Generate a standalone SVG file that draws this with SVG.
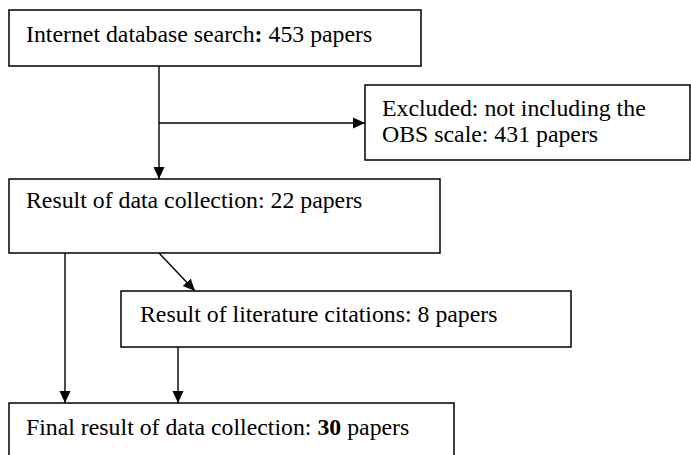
<svg xmlns="http://www.w3.org/2000/svg" width="691" height="455" viewBox="0 0 691 455">
<style>
.box{fill:#fff;stroke:#000;stroke-width:1.5}
.t{font-family:"Liberation Serif","Times New Roman",serif;font-size:23.8px;fill:#000}
.c{stroke:#000;stroke-width:1.4;fill:none;marker-end:url(#ah)}
</style>
<defs>
<marker id="ah" markerUnits="userSpaceOnUse" markerWidth="12" markerHeight="12" refX="12" refY="6" orient="auto" viewBox="0 0 12 12">
<path d="M0,0.5 L12,6 L0,11.5 z" fill="#000"/>
</marker>
</defs>
<g id="connectors">
<line class="c" x1="159" y1="66" x2="159" y2="179"/>
<line class="c" x1="159" y1="123" x2="365" y2="123"/>
<line class="c" x1="65" y1="253" x2="65" y2="403"/>
<line class="c" x1="159" y1="253" x2="195" y2="291"/>
<line class="c" x1="178" y1="347" x2="178" y2="403"/>
</g>
<g id="n1"><rect class="box" x="9" y="10" width="412" height="56"/>
<text class="t" x="26" y="42">Internet database search<tspan font-weight="bold">:</tspan> 453 papers</text></g>
<g id="n2"><rect class="box" x="365" y="85" width="325" height="75"/>
<text class="t" x="382" y="116">Excluded: not including the</text>
<text class="t" x="382" y="142">OBS scale: 431 papers</text></g>
<g id="n3"><rect class="box" x="9" y="179" width="431" height="74"/>
<text class="t" x="26" y="208">Result of data collection: 22 papers</text></g>
<g id="n4"><rect class="box" x="121" y="291" width="450" height="56"/>
<text class="t" x="140" y="322">Result of literature citations: 8 papers</text></g>
<g id="n5"><rect class="box" x="9" y="403" width="445" height="60"/>
<text class="t" x="26" y="435">Final result of data collection: <tspan font-weight="bold">30</tspan> papers</text></g>
</svg>
